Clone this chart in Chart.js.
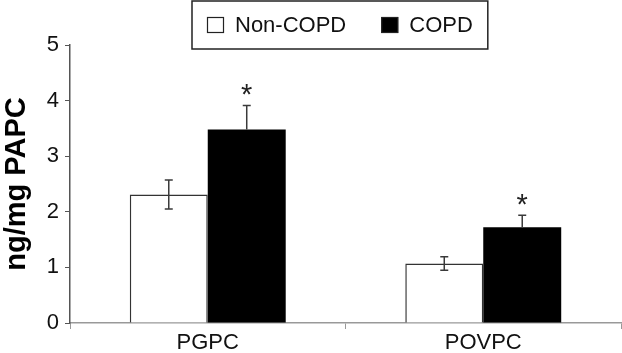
<!DOCTYPE html>
<html>
<head>
<meta charset="utf-8">
<script src="https://cdn.jsdelivr.net/npm/chart.js@4.4.1/dist/chart.umd.min.js"></script>
<style>
  html, body { margin: 0; padding: 0; background: #fff; }
  #wrap { width: 622px; height: 353px; position: relative; }
</style>
</head>
<body>
<div id="wrap"><canvas id="chart"></canvas></div>
<script>
// values
const categories = ['PGPC', 'POVPC']
const seriesNames = ['Non-COPD', 'COPD']
const nonCopd = [2.31, 1.07]
const nonCopdErr = [0.26, 0.12]
const copd = [3.48, 1.72]
const copdErr = [0.43, 0.22]
const copdMarks = ['*', '*']
const yTicks = [0, 1, 2, 3, 4, 5]

const FONT = "'Liberation Sans', Arial, Helvetica, sans-serif"

// error bars + significance stars
const errorBars = {
  id: 'errorBars',
  afterDatasetsDraw(chart) {
    const ctx = chart.ctx
    const y = chart.scales.y
    const errs = [nonCopdErr, copdErr]
    const vals = [nonCopd, copd]
    ctx.save()
    ctx.strokeStyle = '#3a3a3a'
    ctx.lineWidth = 1.5
    errs.forEach((err, di) => {
      const meta = chart.getDatasetMeta(di)
      meta.data.forEach((bar, i) => {
        const top = y.getPixelForValue(vals[di][i] + err[i])
        const bot = y.getPixelForValue(vals[di][i] - err[i])
        const cap = 4
        ctx.beginPath()
        ctx.moveTo(bar.x, top); ctx.lineTo(bar.x, bar.y)
        if (di === 0) { ctx.lineTo(bar.x, bot); ctx.moveTo(bar.x - cap, bot); ctx.lineTo(bar.x + cap, bot) }
        ctx.moveTo(bar.x - cap, top); ctx.lineTo(bar.x + cap, top)
        ctx.stroke()
        if (di === 1 && copdMarks[i]) {
          ctx.fillStyle = '#222'
          ctx.font = '29px ' + FONT
          ctx.textAlign = 'center'
          ctx.textBaseline = 'alphabetic'
          const m = ctx.measureText(copdMarks[i])
          const h = m.actualBoundingBoxAscent + m.actualBoundingBoxDescent
          const cy = top - 16
          ctx.fillText(copdMarks[i], bar.x, cy + m.actualBoundingBoxAscent - h / 2)
        }
      })
    })
    ctx.restore()
  }
}

// boxed legend at the top
const boxedLegend = {
  id: 'boxedLegend',
  afterDraw(chart) {
    const ctx = chart.ctx
    const fills = ['#ffffff', '#000000']
    ctx.save()
    ctx.font = '22px ' + FONT
    ctx.textBaseline = 'middle'
    ctx.textAlign = 'left'
    let x = 207
    const cy = 25
    seriesNames.forEach((name, i) => {
      ctx.fillStyle = fills[i]
      ctx.fillRect(x, cy - 8, 17, 16)
      ctx.strokeStyle = '#222'
      ctx.lineWidth = 1.2
      ctx.strokeRect(x + 0.5, cy - 7.5, 16, 15)
      x += 17 + 11
      ctx.fillStyle = '#111'
      ctx.fillText(name, x, cy + 1)
      x += ctx.measureText(name).width + 35
    })
    ctx.strokeStyle = '#222'
    ctx.lineWidth = 1.5
    ctx.strokeRect(192, 1, x - 35 + 15 - 192, 48)
    ctx.restore()
  }
}

const data = {
  labels: categories,
  datasets: [
    {
      label: seriesNames[0],
      data: nonCopd,
      backgroundColor: '#ffffff',
      borderColor: '#333333',
      borderWidth: 1.5,
      borderSkipped: 'bottom'
    },
    {
      label: seriesNames[1],
      data: copd,
      backgroundColor: '#000000',
      borderColor: '#000000',
      borderWidth: 0
    }
  ]
}

const config = {
  type: 'bar',
  data: data,
  options: {
    responsive: true,
    maintainAspectRatio: false,
    animation: false,
    layout: { padding: { top: 45, right: 1, left: 0, bottom: 0 } },
    datasets: { bar: { categoryPercentage: 0.566, barPercentage: 1 } },
    plugins: {
      legend: { display: false },
      tooltip: { enabled: false }
    },
    scales: {
      x: {
        afterFit(scale) { scale.height = 30 },
        grid: { display: true, drawOnChartArea: false, drawTicks: true, tickLength: 6, color: '#999', offset: true },
        border: { display: true, color: '#999', width: 1.5 },
        ticks: { color: '#111', font: { family: FONT, size: 22 }, padding: 1 }
      },
      y: {
        min: 0,
        max: 5,
        afterBuildTicks(scale) { scale.ticks = yTicks.map(v => ({ value: v })) },
        afterFit(scale) { scale.width = 70 },
        grid: { display: true, drawOnChartArea: false, drawTicks: true, tickLength: 5, color: '#555' },
        border: { display: true, color: '#555', width: 1.5 },
        ticks: { color: '#111', font: { family: FONT, size: 22 }, padding: 6 },
        title: {
          display: true,
          text: 'ng/mg PAPC',
          color: '#000',
          font: { family: FONT, size: 29, weight: 'bold' },
          padding: { top: 0, bottom: 0 }
        }
      }
    }
  },
  plugins: [errorBars, boxedLegend]
}

const myChart = new Chart(document.getElementById('chart'), config)
</script>
</body>
</html>
